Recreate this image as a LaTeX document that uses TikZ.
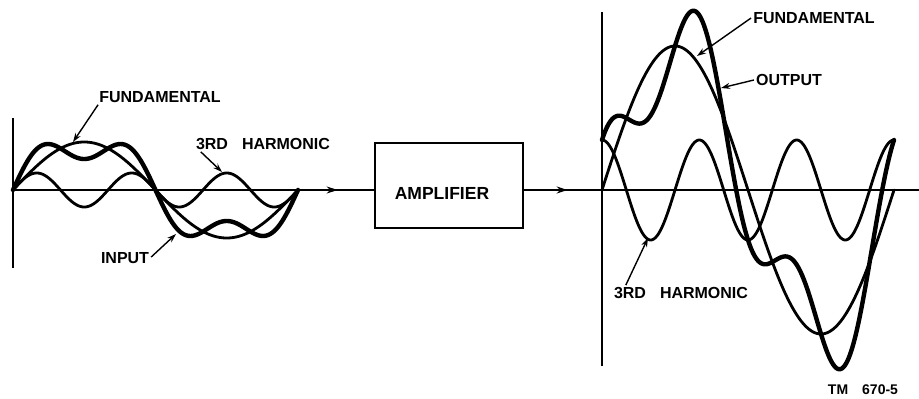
\documentclass[tikz,border=0pt]{standalone}
\usepackage{fontspec}
\setmainfont{Liberation Sans}
\usetikzlibrary{arrows.meta,decorations.markings}
\tikzset{
  lbl/.style={font=\fontsize{16}{18}\selectfont\bfseries, inner sep=0pt, anchor=center},
  axisline/.style={line width=1.6pt},
  wave/.style={line width=2.8pt, line join=round, line cap=round},
  sumwave/.style={line width=4.4pt, line join=round, line cap=round},
  ptr/.style={line width=1.4pt, -{Stealth[length=9pt,width=6pt]}},
  midarrow/.style={postaction={decorate}, decoration={markings, mark=at position #1 with {\arrow{Stealth[length=11pt,width=7pt]}}}},
  ampbox/.style={draw, line width=2.4pt, minimum width=148pt, minimum height=85pt, inner sep=0pt}
}
\begin{document}
\begin{tikzpicture}[x=1pt,y=-1pt]
\useasboundingbox (0,0) rectangle (919,399);

% ---- left graph ----
\coordinate (lvtop) at (13,118);
\coordinate (lvbot) at (13,268);
\coordinate (lorig) at (13,190);
\draw[axisline] (lvtop) -- (lvbot);

\node[ampbox] (amp) at (449,185.5) {};
\node[lbl, font=\fontsize{17.5}{19}\selectfont\bfseries] (amptxt) at (442,193) {AMPLIFIER};

\draw[axisline, midarrow=0.9] (lorig) -- (lorig -| amp.west);

% left curves: x0=13, P=285
\draw[wave] plot[domain=0:360, samples=181, smooth] ({13+285*(\x/360)},{190-48*sin(\x)});
\draw[wave] plot[domain=0:360, samples=181, smooth] ({13+285*(\x/360)},{190-17*sin(3*\x)});
\draw[sumwave] plot[domain=0:360, samples=241, smooth] ({13+285*(\x/360)},{190-48*sin(\x)-17*sin(3*\x)});

% left labels
\node[lbl] (fundL) at (160,97) {FUNDAMENTAL};
\coordinate (fundLtip) at (73,142);
\draw[ptr] ([xshift=-1pt,yshift=-2pt]fundL.south west) -- (fundLtip);

\node[lbl] (harmL) at (263,144) {3RD\hspace{14pt}HARMONIC};
\coordinate (harmLtip) at (222,172);
\draw[ptr] ([xshift=5pt,yshift=-2pt]harmL.south west) -- (harmLtip);

\node[lbl] (inp) at (125,258) {INPUT};
\coordinate (inptip) at (176,234);
\draw[ptr] ([xshift=2pt,yshift=1pt]inp.east) -- (inptip);

% ---- right graph ----
\coordinate (rvtop) at (602,12);
\coordinate (rvbot) at (602,366);
\coordinate (rend) at (919,190);
\draw[axisline] (rvtop) -- (rvbot);
\draw[axisline, midarrow=0.11] (amp.east |- rend) -- (rend);

% right curves: x0=602, P=292
\draw[wave] plot[domain=0:360, samples=181, smooth] ({602+292*(\x/360)},{190-144*sin(\x)});
\draw[wave] plot[domain=0:360, samples=241, smooth] ({602+292*(\x/360)},{190-50*cos(3*\x)});
\draw[sumwave] plot[domain=0:360, samples=301, smooth] ({602+292*(\x/360)},{190-144*sin(\x)-50*cos(3*\x)});

% right labels
\node[lbl] (fundR) at (814,18) {FUNDAMENTAL};
\coordinate (fundRtip) at (697,56);
\draw[ptr] ([xshift=-2pt]fundR.west) -- (fundRtip);

\node[lbl] (outp) at (789,80) {OUTPUT};
\coordinate (outptip) at (721,88);
\draw[ptr] ([xshift=-2pt]outp.west) -- (outptip);

\node[lbl] (harmR) at (681,293) {3RD\hspace{14pt}HARMONIC};
\coordinate (harmRtip) at (648,238);
\draw[ptr] ([xshift=12pt,yshift=2pt]harmR.north west) -- (harmRtip);

\node[lbl, font=\fontsize{14}{16}\selectfont\bfseries] (tm) at (863,390) {TM\hspace{14pt}670-5};
\end{tikzpicture}
\end{document}
